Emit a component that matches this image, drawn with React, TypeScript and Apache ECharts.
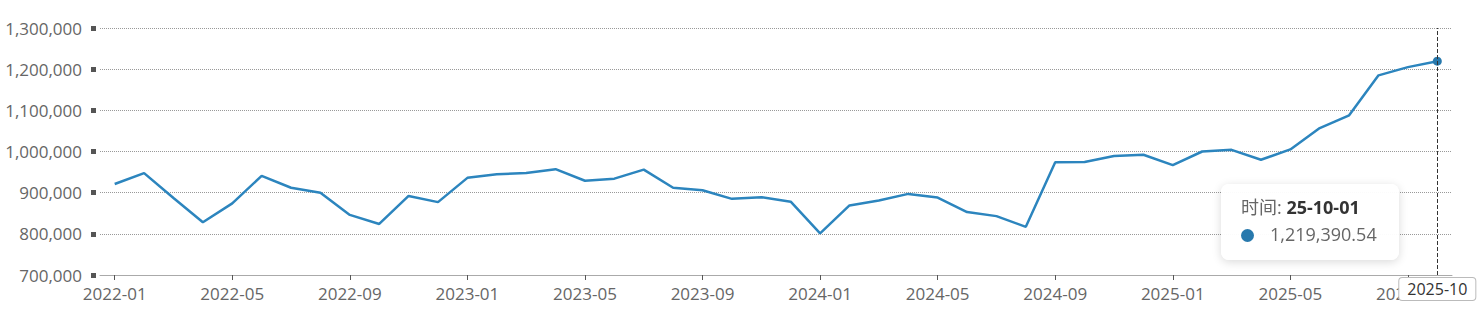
import React, { useEffect, useRef } from "react";
import * as echarts from "echarts";

const months: string[] = [
  "2022-01", "2022-02", "2022-03", "2022-04", "2022-05", "2022-06", "2022-07", "2022-08", "2022-09", "2022-10", "2022-11", "2022-12",
  "2023-01", "2023-02", "2023-03", "2023-04", "2023-05", "2023-06", "2023-07", "2023-08", "2023-09", "2023-10", "2023-11", "2023-12",
  "2024-01", "2024-02", "2024-03", "2024-04", "2024-05", "2024-06", "2024-07", "2024-08", "2024-09", "2024-10", "2024-11", "2024-12",
  "2025-01", "2025-02", "2025-03", "2025-04", "2025-05", "2025-06", "2025-07", "2025-08", "2025-09", "2025-10",
];

const values: number[] = [
  921000, 947500, 887000, 828000, 874000, 941000, 912000, 900000, 846000, 824000, 892000, 877000,
  936000, 944500, 948000, 957000, 929000, 934000, 956000, 912000, 906000, 885000, 889000, 878000,
  801000, 869000, 881000, 897000, 888000, 853000, 843000, 817000, 974000, 974500, 989000, 992000,
  967000, 1000000, 1004000, 980000, 1005000, 1057000, 1088000, 1185000, 1205000, 1219390.54,
];

const yTicks = { min: 700000, max: 1300000, step: 100000 };
const tooltipLabel = "时间";
const lineColor = "#2879ad";
const font = "'Open Sans', 'Noto Sans CJK SC', sans-serif";

export default function App() {
  const ref = useRef<HTMLDivElement>(null);
  useEffect(() => {
    document.body.style.margin = "0";
    const chart = echarts.init(ref.current!, undefined, { renderer: "svg" });
    chart.setOption({
      animation: false,
      textStyle: { fontFamily: font },
      grid: { left: 100, right: 26, top: 28, bottom: 46 },
      tooltip: {
        trigger: "axis",
        alwaysShowContent: true,
        triggerOn: "none",
        backgroundColor: "rgba(255,255,255,0.96)",
        borderWidth: 0,
        padding: [10, 22, 12, 20],
        extraCssText: "box-shadow: 0 2px 10px rgba(0,0,0,0.15); border-radius: 8px;",
        position: () => [1221, 184],
        axisPointer: {
          type: "line",
          lineStyle: { color: "#333", type: "dashed", width: 1 },
          label: {
            show: true,
            backgroundColor: "#fff",
            borderColor: "#bbb",
            borderWidth: 1,
            color: "#333",
            fontSize: 16,
            fontFamily: font,
            padding: [3, 8, 3, 8],
            borderRadius: 3,
          },
        },
        formatter: (params: any) => {
          const p = Array.isArray(params) ? params[0] : params;
          const d = String(p.name).slice(2) + "-01";
          const v = Number(p.value).toLocaleString("en-US", { minimumFractionDigits: 2, maximumFractionDigits: 2 });
          return (
            `<div style="font-family:${font.replace(/'/g, "")};font-size:18px;line-height:27px;color:#666">` +
            `<div>${tooltipLabel}: <b style="color:#333">${d}</b></div>` +
            `<div><span style="display:inline-block;width:13px;height:13px;border-radius:50%;background:${lineColor};vertical-align:-1px;margin-right:16px"></span>${v}</div>` +
            `</div>`
          );
        },
      },
      xAxis: {
        type: "category",
        data: months,
        boundaryGap: true,
        axisLine: { show: true, lineStyle: { color: "#aaa", width: 1 } },
        axisTick: { show: true, alignWithLabel: true, interval: 3, length: 5, lineStyle: { color: "#555" } },
        axisLabel: { interval: 3, color: "#666", fontSize: 17, margin: 10, fontFamily: font },
        splitLine: { show: false },
      },
      yAxis: {
        type: "value",
        min: yTicks.min,
        max: yTicks.max,
        interval: yTicks.step,
        offset: 4,
        axisLine: { show: false },
        axisTick: { show: true, length: 5, lineStyle: { color: "#555", width: 5 } },
        axisLabel: {
          color: "#666",
          fontSize: 17,
          margin: 14,
          fontFamily: font,
          formatter: (v: number) => v.toLocaleString("en-US"),
        },
        splitLine: { show: true, lineStyle: { color: "#999", type: "dotted", width: 1 } },
      },
      series: [
        {
          type: "line",
          data: values,
          showSymbol: false,
          symbol: "circle",
          symbolSize: 9,
          itemStyle: { color: lineColor },
          lineStyle: { color: lineColor, width: 2.5 },
          emphasis: { scale: false },
        },
      ],
    });
    chart.dispatchAction({ type: "showTip", seriesIndex: 0, dataIndex: values.length - 1 });
    return () => chart.dispose();
  }, []);
  return <div ref={ref} style={{ width: 1478, height: 321 }} />;
}
